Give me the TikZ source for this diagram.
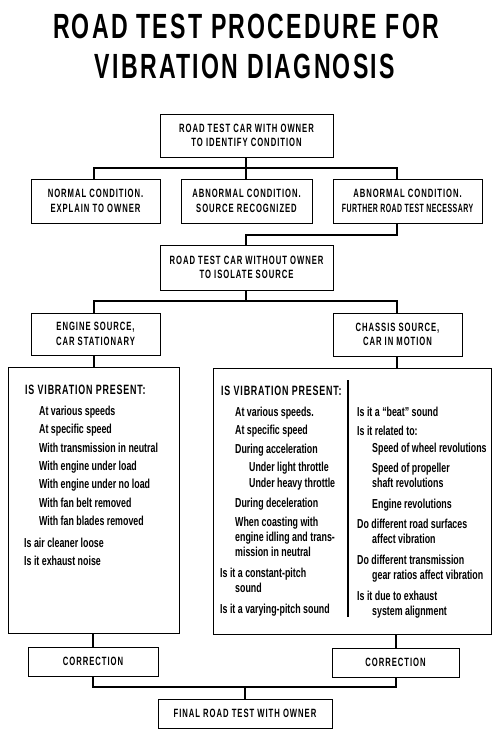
\documentclass[tikz,border=0pt]{standalone}
\usepackage{fontspec}
\newfontfamily\titlefont{Liberation Sans Bold}[FakeStretch=0.66,LetterSpace=6.5]
\newfontfamily\lblfont{Liberation Sans Bold}[FakeStretch=0.64,LetterSpace=8]
\newfontfamily\lbltight{Liberation Sans Bold}[FakeStretch=0.58,LetterSpace=4]
\newfontfamily\hdrfont{Liberation Sans Bold}[FakeStretch=0.66,LetterSpace=6]
\newfontfamily\bodyfont{Liberation Sans Bold}[FakeStretch=0.68]
\begin{document}
\begin{tikzpicture}[x=1pt,y=-1pt,
  box/.style={draw, line width=0.9pt, inner sep=0pt, align=center,
    font=\lblfont\fontsize{12}{14.5}\selectfont},
  conn/.style={line width=1.8pt},
  ttl/.style={anchor=base, inner sep=0pt, font=\titlefont\fontsize{35}{40}\selectfont},
  hdr/.style={anchor=base west, inner sep=0pt, font=\hdrfont\fontsize{13.5}{15}\selectfont},
  itm/.style={anchor=base west, inner sep=0pt, font=\bodyfont\fontsize{13}{14}\selectfont}]
\useasboundingbox[fill=white] (0,0) rectangle (500,734);

% title
\node[ttl] (t1) at (246,38) {ROAD TEST PROCEDURE FOR};
\node[ttl] (t2) at (245,78) {VIBRATION DIAGNOSIS};

% boxes
\node[box, minimum width=173pt, minimum height=43pt] (b1) at (246.5,135.5) {ROAD TEST CAR WITH OWNER\\TO IDENTIFY CONDITION};
\node[box, minimum width=129pt, minimum height=44pt] (b2a) at (95.5,201) {NORMAL CONDITION.\\EXPLAIN TO OWNER};
\node[box, minimum width=131pt, minimum height=44pt] (b2b) at (246.5,201) {ABNORMAL CONDITION.\\SOURCE RECOGNIZED};
\node[box, minimum width=149pt, minimum height=44pt] (b2c) at (407.5,201) {ABNORMAL CONDITION.\\{\lbltight FURTHER ROAD TEST NECESSARY}};
\node[box, minimum width=173pt, minimum height=45pt] (b3) at (246.5,267.5) {ROAD TEST CAR WITHOUT OWNER\\TO ISOLATE SOURCE};
\node[box, minimum width=129pt, minimum height=42pt] (b4a) at (95.5,334) {ENGINE SOURCE,\\CAR STATIONARY};
\node[box, minimum width=129pt, minimum height=43pt] (b4b) at (397.5,334.5) {CHASSIS SOURCE,\\CAR IN MOTION};
\node[box, minimum width=171pt, minimum height=266pt] (bl) at (93.5,500) {};
\node[box, minimum width=278pt, minimum height=266pt] (br) at (352,501) {};
\node[box, minimum width=130pt, minimum height=29pt] (cl) at (93,661.5) {CORRECTION};
\node[box, minimum width=127pt, minimum height=29pt] (cr) at (395.5,662.5) {CORRECTION};
\node[box, minimum width=174pt, minimum height=29pt] (fin) at (245,713.5) {FINAL ROAD TEST WITH OWNER};

% junction coordinates
\coordinate (j1) at (246,168);
\coordinate (j1l) at (94,168);
\coordinate (j1r) at (397,168);
\coordinate (j2) at (246,235);
\coordinate (j2r) at (397,235);
\coordinate (j3) at (246,301);
\coordinate (j3l) at (94,301);
\coordinate (j3r) at (397,301);
\coordinate (j4) at (245,687);
\coordinate (j4l) at (93,687);
\coordinate (j4r) at (396,687);
\coordinate (dv1) at (348,380);
\coordinate (dv2) at (348,617);

% connectors
\draw[conn] (b1.south -| j1) -- (j1);
\draw[conn] (j1l |- b2a.north) -- (j1l) -- (j1r) -- (j1r |- b2c.north);
\draw[conn] (j1) -- (j1 |- b2b.north);
\draw[conn] (j2r |- b2c.south) -- (j2r) -- (j2) -- (j2 |- b3.north);
\draw[conn] (b3.south -| j3) -- (j3);
\draw[conn] (j3l |- b4a.north) -- (j3l) -- (j3r) -- (j3r |- b4b.north);
\draw[conn] (b4a.south -| j3l) -- (j3l |- bl.north);
\draw[conn] (b4b.south -| j3r) -- (j3r |- br.north);
\draw[conn] (bl.south -| j4l) -- (j4l |- cl.north);
\draw[conn] (br.south -| j4r) -- (j4r |- cr.north);
\draw[conn] (j4l |- cl.south) -- (j4l) -- (j4r) -- (j4r |- cr.south);
\draw[conn] (j4) -- (j4 |- fin.north);
\draw[line width=1.5pt] (dv1) -- (dv2);

% left box text
\node[hdr] (lh) at (25,394) {IS VIBRATION PRESENT:};
\node[itm] (l1) at (39,415) {At various speeds};
\node[itm] (l2) at (39,433) {At specific speed};
\node[itm] (l3) at (39,452) {With transmission in neutral};
\node[itm] (l4) at (39,470) {With engine under load};
\node[itm] (l5) at (39,488) {With engine under no load};
\node[itm] (l6) at (39,507) {With fan belt removed};
\node[itm] (l7) at (39,525) {With fan blades removed};
\node[itm] (l8) at (24,547) {Is air cleaner loose};
\node[itm] (l9) at (24,565) {Is it exhaust noise};

% right box, left column
\node[hdr] (rh) at (221,395) {IS VIBRATION PRESENT:};
\node[itm] (r1) at (235,416) {At various speeds.};
\node[itm] (r2) at (235,434) {At specific speed};
\node[itm] (r3) at (235,453) {During acceleration};
\node[itm] (r4) at (249,471) {Under light throttle};
\node[itm] (r5) at (249,487) {Under heavy throttle};
\node[itm] (r6) at (235,507) {During deceleration};
\node[itm] (r7) at (235,526) {When coasting with};
\node[itm] (r8) at (235,541) {engine idling and trans-};
\node[itm] (r9) at (235,556) {mission in neutral};
\node[itm] (r10) at (220,577) {Is it a constant-pitch};
\node[itm] (r11) at (235,592) {sound};
\node[itm] (r12) at (220,613) {Is it a varying-pitch sound};

% right box, right column
\node[itm] (s1) at (357,416) {Is it a “beat” sound};
\node[itm] (s2) at (357,435) {Is it related to:};
\node[itm] (s3) at (372,452) {Speed of wheel revolutions};
\node[itm] (s4) at (372,472) {Speed of propeller};
\node[itm] (s5) at (372,487) {shaft revolutions};
\node[itm] (s6) at (372,508) {Engine revolutions};
\node[itm] (s7) at (357,528) {Do different road surfaces};
\node[itm] (s8) at (372,543) {affect vibration};
\node[itm] (s9) at (357,564) {Do different transmission};
\node[itm] (s10) at (372,579) {gear ratios affect vibration};
\node[itm] (s11) at (357,600) {Is it due to exhaust};
\node[itm] (s12) at (372,615) {system alignment};
\end{tikzpicture}
\end{document}
